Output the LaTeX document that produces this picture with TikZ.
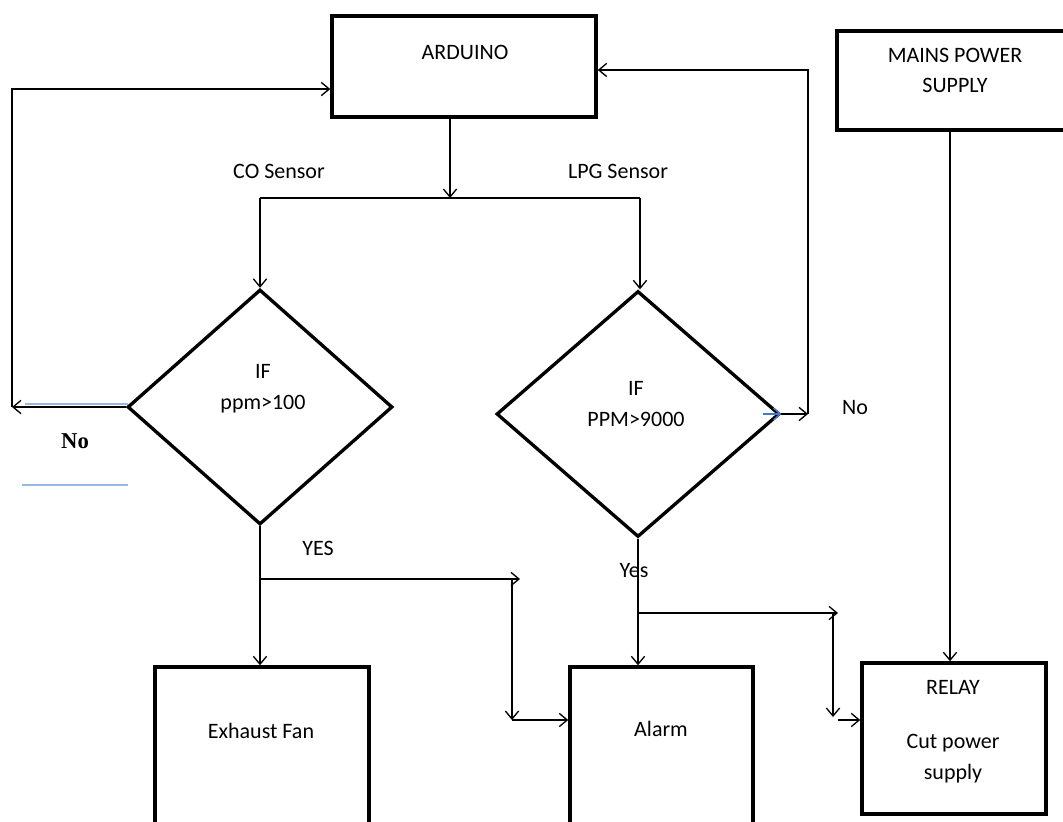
\documentclass[tikz,border=0pt]{standalone}
\usepackage{fontspec}
\setmainfont{Carlito}
\newfontfamily\tnr{Liberation Serif}
\usetikzlibrary{arrows.meta,shapes.geometric}
\definecolor{lblue}{RGB}{150,185,228}
\definecolor{mblue}{RGB}{70,120,200}
\tikzset{
  box/.style={draw, line width=2.6pt, inner sep=0pt, rectangle},
  dec/.style={draw, line width=2.5pt, inner sep=0pt, diamond},
  txt/.style={inner sep=0pt, font=\fontsize{16.5}{23}\selectfont, align=center},
  arr/.style={-{Straight Barb[length=6pt,width=10pt,line width=1pt]}, line width=1.2pt},
  ln/.style={line width=1.2pt},
}
\begin{document}
\begin{tikzpicture}[x=0.75pt,y=-0.75pt]
\useasboundingbox (0,0) rectangle (1063,821);
\clip (0,0) rectangle (1063,821);
% boxes
\node[box, minimum width=198pt, minimum height=75.75pt] (ard) at (464,66.5) {};
\node[box, minimum width=178.5pt, minimum height=74.25pt] (mains) at (956,80.5) {};
\node[box, minimum width=160.5pt, minimum height=129.75pt] (fan) at (262,753.5) {};
\node[box, minimum width=137.25pt, minimum height=129.75pt] (alarm) at (661.5,753.5) {};
\node[box, minimum width=138pt, minimum height=113.25pt] (relay) at (954,738.5) {};
% diamonds
\node[dec, minimum width=198.75pt, minimum height=176.25pt] (d1) at (260,407) {};
\node[dec, minimum width=212.25pt, minimum height=184.5pt] (d2) at (638,414) {};
% texts
\node[txt] (tard) at (465,52) {ARDUINO};
\node[txt] (tmains) at (955,70.5) {MAINS POWER\\SUPPLY};
\node[txt] (tfan) at (261,731) {Exhaust Fan};
\node[txt] (talarm) at (661,729) {Alarm};
\node[txt] (trelay) at (953,687) {RELAY};
\node[txt] (tcut) at (953,758.5) {Cut power\\supply};
\node[txt] (td1) at (263,389) {IF\\ppm>100};
\node[txt] (td2) at (636,404) {IF\\PPM>9000};
\node[txt] (tco) at (279,171) {CO Sensor};
\node[txt] (tlpg) at (618,171) {LPG Sensor};
\node[txt] (tyes1) at (318,548) {YES};
\node[txt] (tyes2) at (634,571) {Yes};
\node[txt] (tno2) at (855,408) {No};
\node[inner sep=0pt, font=\tnr\bfseries\fontsize{17}{20}\selectfont] (tno1) at (75,441) {No};
% coordinates
\coordinate (stem) at (450,0);
\coordinate (j0) at (450,198);
\coordinate (jl) at (260,198);
\coordinate (jr) at (640,198);
\coordinate (cL) at (12,407);
\coordinate (cR) at (808,414);
\coordinate (y1) at (260,579);
\coordinate (y1e) at (520,579);
\coordinate (y1v) at (512,579);
\coordinate (y1b) at (512,720);
\coordinate (y2) at (638,613);
\coordinate (y2e) at (838,613);
\coordinate (y2v) at (833,613);
\coordinate (y2b) at (833,717);
\coordinate (y2c) at (838,720);
\coordinate (ms) at (950,0);
\coordinate (bl1a) at (25,404);
\coordinate (bl1b) at (128,404);
\coordinate (bl2a) at (22,485);
\coordinate (bl2b) at (128,485);
% connectors
\draw[arr] (ard.south -| stem) -- (j0);
\draw[ln] (jl) -- (jr);
\draw[arr] (jl) -- (d1.north);
\draw[arr] (jr) -- (jr |- d2.north);
% left No loop
\draw[lblue, line width=1pt] (bl1a) -- (bl1b);
\draw[lblue, line width=1pt] (bl2a) -- (bl2b);
\draw[arr] (d1.west) -- (cL);
\draw[arr] (cL) |- ([yshift=-16.9pt]ard.west);
% right No loop
\draw[arr] (d2.east) -- (cR);
\draw[mblue, -{Straight Barb[length=5pt,width=9pt,line width=1pt]}, line width=1.1pt] ([xshift=-14pt]d2.east) -- (d2.east);
\draw[arr] (cR) |- ([yshift=-2.6pt]ard.east);
% yes branches
\draw[arr] (d1.south) -- (fan.north -| d1.south);
\draw[arr] (y1) -- (y1e);
\draw[arr] (y1v) -- (y1b);
\draw[arr] (y1b) -- (y1b -| alarm.west);
\draw[arr] (d2.south) -- (alarm.north -| d2.south);
\draw[arr] (y2) -- (y2e);
\draw[arr] (y2v) -- (y2b);
\draw[arr] (y2c) -- (y2c -| relay.west);
\draw[arr] (mains.south -| ms) -- (relay.north -| ms);
\end{tikzpicture}
\end{document}
